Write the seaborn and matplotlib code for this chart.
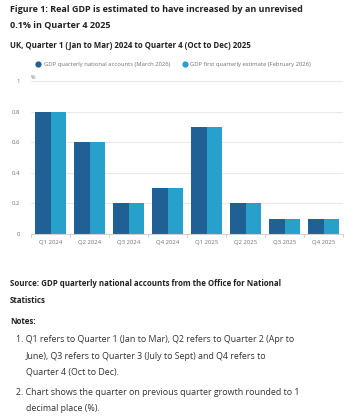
import pandas as pd
import numpy as np
import matplotlib
matplotlib.use("Agg")
import matplotlib.pyplot as plt
from matplotlib.lines import Line2D
import seaborn as sns

# dades del grafic
quarters = ["Q1 2024", "Q2 2024", "Q3 2024", "Q4 2024",
            "Q1 2025", "Q2 2025", "Q3 2025", "Q4 2025"]
series_names = ["GDP quarterly national accounts (March 2026)",
                "GDP first quarterly estimate (February 2026)"]
qna_values = [0.8, 0.6, 0.2, 0.3, 0.7, 0.2, 0.1, 0.1]
first_values = [0.8, 0.6, 0.2, 0.3, 0.7, 0.2, 0.1, 0.1]
y_ticks = [0, 0.2, 0.4, 0.6, 0.8, 1]
y_tick_labels = ["0", "0.2", "0.4", "0.6", "0.8", "1"]

colors = ["#206095", "#27a0cc"]

df = pd.DataFrame({
    "quarter": quarters * 2,
    "value": qna_values + first_values,
    "series": [series_names[0]] * len(quarters) + [series_names[1]] * len(quarters),
})

sns.set_theme(style="white")
plt.rcParams["font.family"] = ["Open Sans", "DejaVu Sans"]

W, H = 357, 419
fig = plt.figure(figsize=(W / 100, H / 100), dpi=100)
ax = fig.add_axes([31 / W, 185 / H, 312 / W, 153 / H])

sns.barplot(data=df, x="quarter", y="value", hue="series",
            palette=colors, width=0.78, gap=0, saturation=1,
            edgecolor="none", linewidth=0, ax=ax, legend=False)

ax.set_ylim(0, 1)
ax.set_xlim(-0.5, len(quarters) - 0.5)
ax.set_yticks(y_ticks)
ax.set_yticklabels(y_tick_labels)
ax.yaxis.grid(True, color="#e9e9e9", linewidth=0.8)
ax.set_axisbelow(True)
for s in ["top", "right", "left"]:
    ax.spines[s].set_visible(False)
ax.spines["bottom"].set_color("#d0d0d0")
ax.spines["bottom"].set_linewidth(0.8)
ax.set_xlabel("")
ax.set_ylabel("")
ax.tick_params(axis="y", length=0, labelsize=4.3, labelcolor="#707070", pad=8)
ax.tick_params(axis="x", length=0, labelsize=4.3, labelcolor="#707070", pad=4)

# petites marques entre categories
for b in np.arange(-0.5, len(quarters), 1.0):
    ax.plot([b, b], [0, -0.02], color="#c8c8c8", lw=0.6, clip_on=False)

ax.text(-0.5, 1.005, "%", fontsize=4, color="#707070", va="bottom", ha="left",
        transform=ax.transData)

# llegenda
handles = [Line2D([0], [0], marker="o", color="none", markerfacecolor=c,
                  markeredgecolor="none", markersize=4.5) for c in colors]
fig.legend(handles, series_names, loc="center", bbox_to_anchor=(173 / W, 1 - 64 / H),
           ncol=2, frameon=False, fontsize=4.2, handletextpad=0.5,
           columnspacing=2.0, handlelength=1.0, labelcolor="#707070")

# titols
fig.text(10 / W, 1 - 10 / H, "Figure 1: Real GDP is estimated to have increased by an unrevised",
         fontsize=6.5, fontweight="bold", color="#222222", va="center", ha="left")
fig.text(10 / W, 1 - 25 / H, "0.1% in Quarter 4 2025",
         fontsize=6.5, fontweight="bold", color="#222222", va="center", ha="left")
fig.text(10 / W, 1 - 45 / H, "UK, Quarter 1 (Jan to Mar) 2024 to Quarter 4 (Oct to Dec) 2025",
         fontsize=5.7, fontweight="bold", color="#222222", va="center", ha="left")

# font i notes
fig.text(10 / W, 1 - 284 / H, "Source: GDP quarterly national accounts from the Office for National",
         fontsize=5.7, fontweight="bold", color="#222222", va="center", ha="left")
fig.text(10 / W, 1 - 300 / H, "Statistics",
         fontsize=5.7, fontweight="bold", color="#222222", va="center", ha="left")
fig.text(10 / W, 1 - 322 / H, "Notes:",
         fontsize=5.7, fontweight="bold", color="#222222", va="center", ha="left")

notes = [
    (16, 340, "1. Q1 refers to Quarter 1 (Jan to Mar), Q2 refers to Quarter 2 (Apr to"),
    (26, 356, "June), Q3 refers to Quarter 3 (July to Sept) and Q4 refers to"),
    (26, 372, "Quarter 4 (Oct to Dec)."),
    (16, 392, "2. Chart shows the quarter on previous quarter growth rounded to 1"),
    (26, 408, "decimal place (%)."),
]
for x, y, t in notes:
    fig.text(x / W, 1 - y / H, t, fontsize=6.4, color="#333333", va="center", ha="left")

fig.savefig("out.png", dpi=100)
